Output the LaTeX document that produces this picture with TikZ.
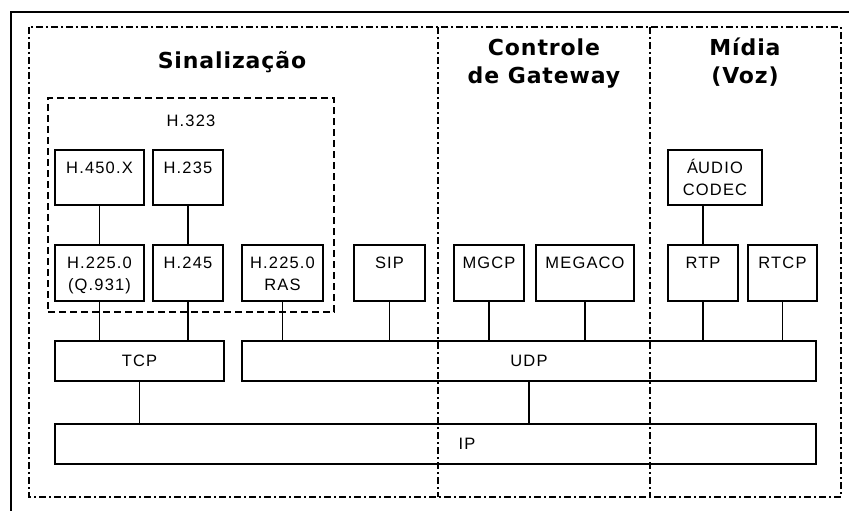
\documentclass[tikz,border=0pt]{standalone}
\usepackage{fontspec}
\newfontfamily\boxfont[LetterSpace=7]{Liberation Sans}
\newfontfamily\titlefont[LetterSpace=4]{DejaVu Sans}
\begin{document}
\begin{tikzpicture}[x=1pt,y=-1pt,
  box/.style={draw, line width=1.5pt, inner sep=0pt, outer sep=0pt, anchor=north west,
    font=\boxfont\fontsize{16.5}{22.5}\selectfont},
  boxlabel/.style={font=\boxfont\fontsize{16.5}{22.5}\selectfont, align=center, inner sep=0pt, anchor=north, yshift=-11pt},
  iplabel/.style={font=\boxfont\fontsize{16.5}{22.5}\selectfont, inner sep=0pt, anchor=center, xshift=31.5pt},
  conn/.style={line width=1.5pt},
  dashdot/.style={line width=1.4pt, dash pattern=on 7pt off 3pt on 2pt off 3pt},
  h323box/.style={draw, line width=1.4pt, dash pattern=on 7pt off 4pt, inner sep=0pt, outer sep=0pt, anchor=north west},
  title/.style={font=\titlefont\bfseries\fontsize{22}{28}\selectfont, inner sep=0pt, align=center},
]
\fill[white] (0,0) rectangle (849,511);
\useasboundingbox (0,0) rectangle (849,511);
% outer frame (top and left)
\draw[line width=1.5pt] (11,511) -- (11,12) -- (849,12);
% dash-dot region frame and dividers
\draw[dashdot] (29,27) rectangle (841,497);
\draw[dashdot] (438,27) -- (438,497);
\draw[dashdot] (650,27) -- (650,497);
% titles
\node[title, anchor=base] (tsin) at (232,69) {Sinaliza\c{c}\~ao};
\node[title, anchor=north] (tgw) at (544,37) {\rule{0pt}{18pt}Controle\\de Gateway};
\node[title, anchor=north] (tmid) at (745,37) {\rule{0pt}{18pt}M\'idia\\(Voz)};
% H.323 group
\node[h323box, minimum width=286pt, minimum height=214pt,
  label={[boxlabel, yshift=-5pt]north:\rule{0pt}{12pt}H.323}] (h323) at (48,98) {};
% protocol boxes
\node[box, minimum width=89pt, minimum height=55pt, label={[boxlabel]north:\rule{0pt}{12pt}H.450.X}] (h450) at (55,150) {};
\node[box, minimum width=70pt, minimum height=55pt, label={[boxlabel]north:\rule{0pt}{12pt}H.235}] (h235) at (153,150) {};
\node[box, minimum width=94pt, minimum height=55pt, label={[boxlabel]north:\rule{0pt}{12pt}\smash{\'A}UDIO\\CODEC}] (audio) at (668,150) {};
\node[box, minimum width=89pt, minimum height=56pt, label={[boxlabel]north:\rule{0pt}{12pt}H.225.0\\(Q.931)}] (h2250) at (55,245) {};
\node[box, minimum width=70pt, minimum height=56pt, label={[boxlabel]north:\rule{0pt}{12pt}H.245}] (h245) at (153,245) {};
\node[box, minimum width=81pt, minimum height=56pt, label={[boxlabel]north:\rule{0pt}{12pt}H.225.0\\RAS}] (ras) at (242,245) {};
\node[box, minimum width=71pt, minimum height=56pt, label={[boxlabel]north:\rule{0pt}{12pt}SIP}] (sip) at (354,245) {};
\node[box, minimum width=70pt, minimum height=56pt, label={[boxlabel]north:\rule{0pt}{12pt}MGCP}] (mgcp) at (454,245) {};
\node[box, minimum width=98pt, minimum height=56pt, label={[boxlabel]north:\rule{0pt}{12pt}MEGACO}] (megaco) at (536,245) {};
\node[box, minimum width=70pt, minimum height=56pt, label={[boxlabel]north:\rule{0pt}{12pt}RTP}] (rtp) at (668,245) {};
\node[box, minimum width=69pt, minimum height=56pt, label={[boxlabel]north:\rule{0pt}{12pt}RTCP}] (rtcp) at (748,245) {};
% transport and network
\node[box, minimum width=169pt, minimum height=40pt] (tcp) at (55,341) {TCP};
\node[box, minimum width=574pt, minimum height=40pt] (udp) at (242,341) {UDP};
\node[box, minimum width=761pt, minimum height=40pt,
  label={[iplabel]center:IP}] (ip) at (55,424) {};
% connectors
\draw[conn] (h450) -- (h2250);
\draw[conn] (h235) -- (h245);
\draw[conn] (rtp.north) -- (rtp.north |- audio.south);
\draw[conn] (h2250.south) -- (h2250.south |- tcp.north);
\draw[conn] (h245.south) -- (h245.south |- tcp.north);
\draw[conn] (ras.south) -- (ras.south |- udp.north);
\draw[conn] (sip.south) -- (sip.south |- udp.north);
\draw[conn] (mgcp.south) -- (mgcp.south |- udp.north);
\draw[conn] (megaco.south) -- (megaco.south |- udp.north);
\draw[conn] (rtp.south) -- (rtp.south |- udp.north);
\draw[conn] (rtcp.south) -- (rtcp.south |- udp.north);
\draw[conn] (tcp.south) -- (tcp.south |- ip.north);
\draw[conn] (udp.south) -- (udp.south |- ip.north);
\end{tikzpicture}
\end{document}
